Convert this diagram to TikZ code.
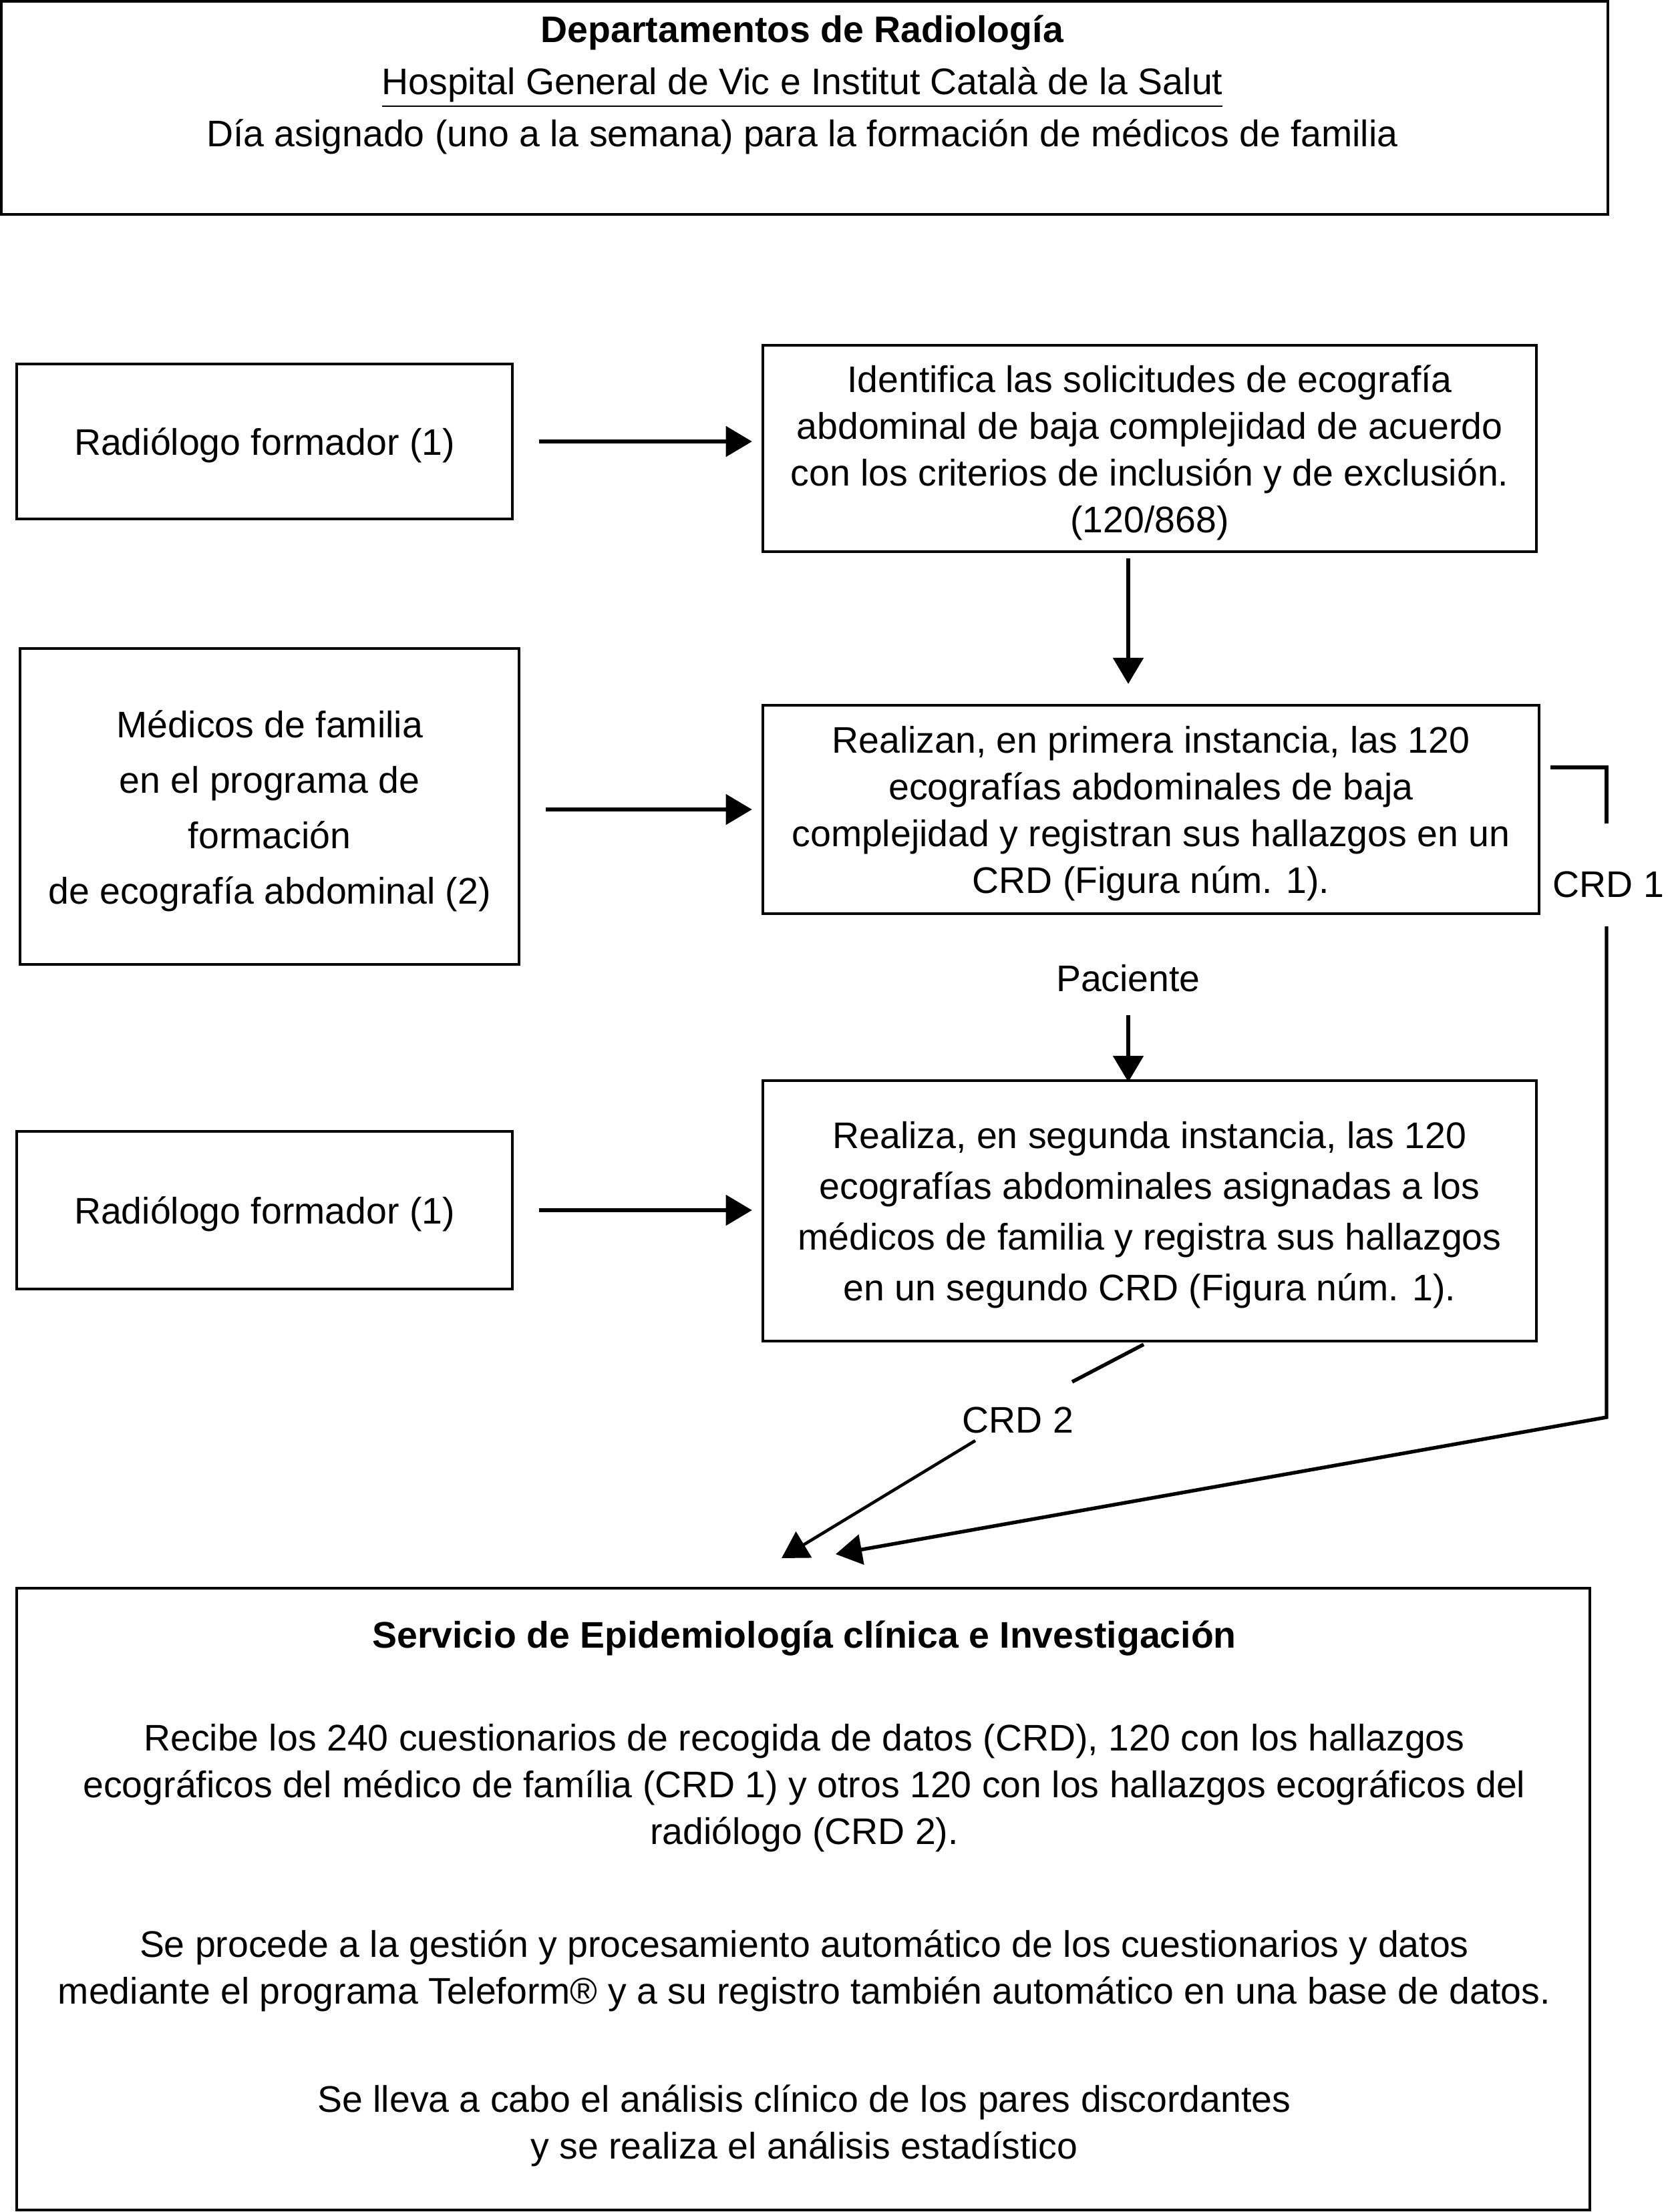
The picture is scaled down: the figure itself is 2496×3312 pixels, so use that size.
\documentclass[tikz,border=0pt]{standalone}
\usepackage{fontspec}
\setmainfont{Liberation Sans}
\usetikzlibrary{arrows.meta}
\newcommand{\fsz}[1]{\fontsize{13.3}{#1}\selectfont}
\begin{document}
\begin{tikzpicture}[x=0.24pt,y=-0.24pt,
  box/.style={draw,line width=1pt,inner sep=0pt},
  txt/.style={inner sep=0pt,align=center,font=\fsz{16.8}},
  arr/.style={line width=1.4pt,-{Triangle[length=9.4pt,width=10.8pt]}},
  conn/.style={line width=1.3pt}]
\useasboundingbox (0,0) rectangle (2496,3312);
% header
\node[box,minimum width=577.2pt,minimum height=76.6pt] (H) at (1204.5,161.5) {};
\node[txt,font=\fsz{18.7}] (Ht) at (1201,127) {\textbf{Departamentos de Radiología}\\\underline{Hospital General de Vic e Institut Català de la Salut}\\Día asignado (uno a la semana) para la formación de médicos de familia};
% left boxes
\node[box,minimum width=178.1pt,minimum height=55.7pt] (A) at (396,661) {};
\node[txt] (At) at (396,667) {Radiólogo formador (1)};
\node[box,minimum width=179.3pt,minimum height=113.5pt] (C) at (403.5,1207.5) {};
\node[txt,font=\fsz{19.9}] (Ct) at (403.5,1214) {Médicos de familia\\en el programa de\\formación\\de ecografía abdominal (2)};
\node[box,minimum width=178.1pt,minimum height=56.6pt] (E) at (396,1812) {};
\node[txt] (Et) at (396,1818) {Radiólogo formador (1)};
% right boxes
\node[box,minimum width=277.9pt,minimum height=74.2pt] (B) at (1721,671.5) {};
\node[txt] (Bt) at (1721,678) {Identifica las solicitudes de ecografía\\abdominal de baja complejidad de acuerdo\\con los criterios de inclusión y de exclusión.\\(120/868)};
\node[box,minimum width=278.9pt,minimum height=74.9pt] (D) at (1723,1212) {};
\node[txt] (Dt) at (1723,1218) {Realizan, en primera instancia, las 120\\ecografías abdominales de baja\\complejidad y registran sus hallazgos en un\\CRD (Figura núm. 1).};
\node[box,minimum width=277.9pt,minimum height=93.6pt] (F) at (1721,1813) {};
\node[txt,font=\fsz{18.2}] (Ft) at (1721,1819) {Realiza, en segunda instancia, las 120\\ecografías abdominales asignadas a los\\médicos de familia y registra sus hallazgos\\en un segundo CRD (Figura núm. 1).};
% bottom box
\node[box,minimum width=565.2pt,minimum height=223.4pt] (G) at (1202.5,2843.5) {};
\node[txt] (G1) at (1204,2453) {\textbf{Servicio de Epidemiología clínica e Investigación}};
\node[txt] (G2) at (1204,2677) {Recibe los 240 cuestionarios de recogida de datos (CRD), 120 con los hallazgos\\ecográficos del médico de família (CRD 1) y otros 120 con los hallazgos ecográficos del\\radiólogo (CRD 2).};
\node[txt] (G3) at (1204,2951) {Se procede a la gestión y procesamiento automático de los cuestionarios y datos\\mediante el programa Teleform® y a su registro también automático en una base de datos.};
\node[txt] (G4) at (1204,3183) {Se lleva a cabo el análisis clínico de los pares discordantes\\y se realiza el análisis estadístico};
% labels
\node[txt] (Pac) at (1689,1465) {Paciente};
\node[txt] (CRD1) at (2408,1324) {CRD 1};
\node[txt] (CRD2) at (1524,2126) {CRD 2};
% horizontal arrows
\draw[arr,shorten <=9pt,shorten >=3.4pt] (A.east) -- (A.east -| B.west);
\draw[arr,shorten <=9pt,shorten >=3.4pt] (C.east |- D.west) -- (D.west);
\draw[arr,shorten <=9pt,shorten >=3.4pt] (E.east) -- (E.east -| F.west);
% vertical arrows
\coordinate (b1) at (1689,836);
\coordinate (b2) at (1689,1024);
\draw[arr] (b1) -- (b2);
\coordinate (p1) at (1689,1520);
\coordinate (p2) at (1689,1620);
\draw[arr] (p1) -- (p2);
% CRD 1 connector
\coordinate (r0) at (2321,1149);
\coordinate (r1) at (2405,1149);
\coordinate (r2) at (2405,1233);
\coordinate (r3) at (2405,1387);
\coordinate (r4) at (2405,2122);
\coordinate (t1) at (1251,2327);
\draw[conn] (r0) -- (r1) -- (r2);
\draw[arr,line width=1.3pt] (r3) -- (r4) -- (t1);
% CRD 2 connector
\coordinate (s0) at (1712,2013);
\coordinate (s1) at (1605,2069);
\coordinate (s2) at (1460,2157);
\coordinate (t2) at (1170,2333);
\draw[conn] (s0) -- (s1);
\draw[arr,line width=1.1pt] (s2) -- (t2);
\end{tikzpicture}
\end{document}
